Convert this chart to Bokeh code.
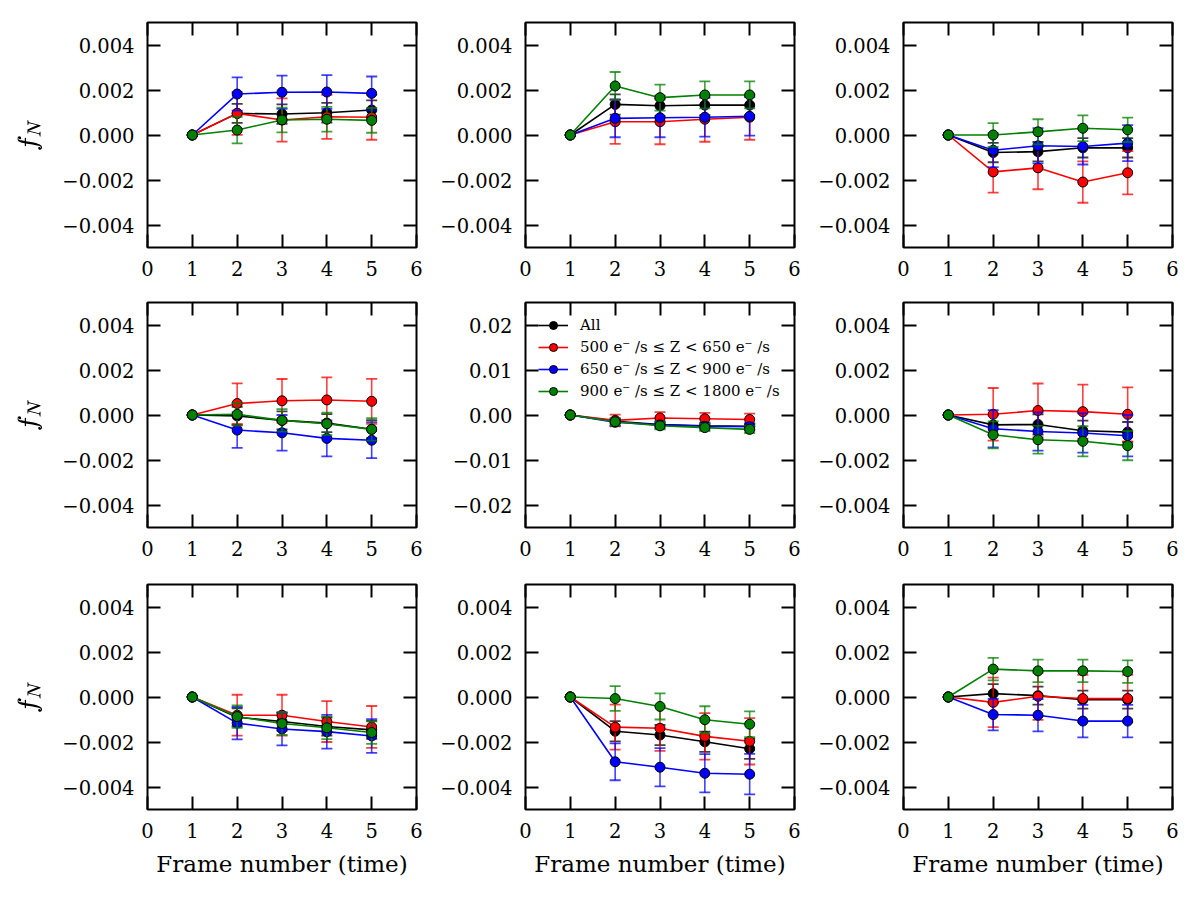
from bokeh.embed import file_html
from bokeh.layouts import column, row
from bokeh.models import (ColumnDataSource, CustomJSTickFormatter, FixedTicker,
                          Legend, LegendItem, LinearAxis, Range1d, TeX)
from bokeh.plotting import figure
from bokeh.resources import INLINE

FRAMES = [1, 2, 3, 4, 5]
X_TICKS = [0, 1, 2, 3, 4, 5, 6]
Y_TICKS = [-0.004, -0.002, 0.0, 0.002, 0.004]
Y_TICKS_WIDE = [-0.02, -0.01, 0.0, 0.01, 0.02]

SERIES_LABELS = [
    "All",
    "500 e\u207b /s \u2264 Z < 650 e\u207b /s",
    "650 e\u207b /s \u2264 Z < 900 e\u207b /s",
    "900 e\u207b /s \u2264 Z < 1800 e\u207b /s",
]
SERIES_COLORS = ["#000000", "#ff0000", "#0000ff", "#008000"]

# one list per panel (row-major, 3 x 3), values at frames 1..5
ALL_Y = [
    [0, 0.00096, 0.00093, 0.00099, 0.00111],
    [0, 0.00136, 0.00130, 0.00133, 0.00133],
    [0, -0.00078, -0.00074, -0.00057, -0.00057],
    [0, -0.00004, -0.00024, -0.00036, -0.00063],
    [0, -0.0014, -0.0021, -0.0024, -0.0025],
    [0, -0.00044, -0.00042, -0.00070, -0.00076],
    [0, -0.00090, -0.00109, -0.00131, -0.00146],
    [0, -0.00152, -0.00169, -0.00199, -0.00230],
    [0, 0.00015, 0.00006, -0.00012, -0.00012],
]
ALL_ERR = [
    [0, 0.00042, 0.00043, 0.00044, 0.00043],
    [0, 0.00045, 0.00045, 0.00045, 0.00045],
    [0, 0.00043, 0.00043, 0.00043, 0.00043],
    [0, 0.00040, 0.00040, 0.00040, 0.00040],
    [0, 0.0005, 0.0005, 0.0005, 0.0005],
    [0, 0.00045, 0.00045, 0.00045, 0.00045],
    [0, 0.00040, 0.00040, 0.00040, 0.00040],
    [0, 0.00045, 0.00045, 0.00045, 0.00045],
    [0, 0.00042, 0.00040, 0.00040, 0.00040],
]
LOW_Y = [
    [0, 0.00096, 0.00067, 0.00081, 0.00079],
    [0, 0.00059, 0.00059, 0.00070, 0.00079],
    [0, -0.00164, -0.00146, -0.00209, -0.00168],
    [0, 0.00051, 0.00063, 0.00067, 0.00061],
    [0, -0.0012, -0.00067, -0.00082, -0.0010],
    [0, 0.00003, 0.00020, 0.00015, 0.00003],
    [0, -0.00081, -0.00081, -0.00109, -0.00133],
    [0, -0.00134, -0.00139, -0.00175, -0.00197],
    [0, -0.00024, 0.00003, -0.00007, -0.00007],
]
LOW_ERR = [
    [0, 0.00095, 0.00096, 0.00098, 0.00100],
    [0, 0.00098, 0.00100, 0.00100, 0.00100],
    [0, 0.00092, 0.00095, 0.00092, 0.00096],
    [0, 0.00090, 0.00097, 0.00100, 0.00100],
    [0, 0.0013, 0.0013, 0.0013, 0.0013],
    [0, 0.00117, 0.00120, 0.00120, 0.00120],
    [0, 0.00091, 0.00091, 0.00091, 0.00093],
    [0, 0.00100, 0.00100, 0.00103, 0.00103],
    [0, 0.00110, 0.00105, 0.00105, 0.00105],
]
MID_Y = [
    [0, 0.00182, 0.00190, 0.00191, 0.00185],
    [0, 0.00074, 0.00077, 0.00079, 0.00083],
    [0, -0.00068, -0.00048, -0.00051, -0.00036],
    [0, -0.00067, -0.00079, -0.00104, -0.00112],
    [0, -0.0016, -0.0022, -0.0025, -0.0026],
    [0, -0.00061, -0.00073, -0.00080, -0.00092],
    [0, -0.00116, -0.00142, -0.00154, -0.00173],
    [0, -0.00288, -0.00312, -0.00339, -0.00343],
    [0, -0.00078, -0.00081, -0.00107, -0.00107],
]
MID_ERR = [
    [0, 0.00074, 0.00074, 0.00075, 0.00075],
    [0, 0.00084, 0.00087, 0.00086, 0.00086],
    [0, 0.00075, 0.00078, 0.00080, 0.00080],
    [0, 0.00079, 0.00079, 0.00080, 0.00080],
    [0, 0.0008, 0.0008, 0.0008, 0.0008],
    [0, 0.00083, 0.00085, 0.00087, 0.00092],
    [0, 0.00072, 0.00073, 0.00075, 0.00075],
    [0, 0.00082, 0.00085, 0.00085, 0.00090],
    [0, 0.00070, 0.00072, 0.00072, 0.00072],
]
HIGH_Y = [
    [0, 0.00022, 0.00067, 0.00070, 0.00065],
    [0, 0.00218, 0.00166, 0.00178, 0.00178],
    [0, 0.00000, 0.00014, 0.00030, 0.00023],
    [0, 0.00003, -0.00024, -0.00039, -0.00064],
    [0, -0.0015, -0.0024, -0.0028, -0.0032],
    [0, -0.00088, -0.00110, -0.00117, -0.00136],
    [0, -0.00087, -0.00118, -0.00137, -0.00158],
    [0, -0.00007, -0.00042, -0.00101, -0.00121],
    [0, 0.00124, 0.00116, 0.00116, 0.00113],
]
HIGH_ERR = [
    [0, 0.00059, 0.00055, 0.00055, 0.00055],
    [0, 0.00062, 0.00058, 0.00060, 0.00060],
    [0, 0.00053, 0.00056, 0.00057, 0.00054],
    [0, 0.00050, 0.00050, 0.00050, 0.00050],
    [0, 0.0008, 0.0008, 0.0008, 0.0008],
    [0, 0.00060, 0.00062, 0.00067, 0.00065],
    [0, 0.00050, 0.00050, 0.00050, 0.00050],
    [0, 0.00055, 0.00058, 0.00060, 0.00057],
    [0, 0.00050, 0.00050, 0.00050, 0.00050],
]

SERIES_Y = [ALL_Y, LOW_Y, MID_Y, HIGH_Y]
SERIES_ERR = [ALL_ERR, LOW_ERR, MID_ERR, HIGH_ERR]

FONT = "DejaVu Serif"
WIDE_PANEL = 4

# layout geometry of the 3 x 3 grid
COL_W = [425, 378, 397]
COL_L = [147, 100, 100]
COL_R = [9, 9, 28]
ROW_H = [283, 280, 337]
ROW_T = [22, 19, 21]
ROW_B = [36, 36, 91]


def tick_formatter(digits):
    return CustomJSTickFormatter(
        args=dict(digits=digits),
        code="""
        const s = Math.abs(tick).toFixed(digits);
        return (tick < -1e-12 ? '\u2212' : '') + s;
        """,
    )


def style_axis(ax, ticks, fmt=None, labels=True):
    ax.ticker = FixedTicker(ticks=ticks)
    ax.minor_tick_line_color = None
    ax.major_tick_in = 13
    ax.major_tick_out = 0
    ax.major_tick_line_width = 2
    ax.major_tick_line_color = "black"
    ax.axis_line_color = None
    if labels:
        ax.major_label_text_font = FONT
        ax.major_label_text_font_size = "19.5px"
        ax.major_label_text_color = "black"
        ax.major_label_standoff = 13
        if fmt is not None:
            ax.formatter = fmt
    else:
        # mirrored tick marks only
        ax.major_label_text_color = None
        ax.major_label_text_font_size = "1px"
        ax.major_label_standoff = 0


def make_panel(idx):
    r, c = divmod(idx, 3)
    wide = idx == WIDE_PANEL
    yticks = Y_TICKS_WIDE if wide else Y_TICKS
    ylim = 0.025 if wide else 0.005
    p = figure(
        width=COL_W[c], height=ROW_H[r],
        min_border_left=COL_L[c], min_border_right=COL_R[c],
        min_border_top=ROW_T[r], min_border_bottom=ROW_B[r],
        x_range=Range1d(0, 6), y_range=Range1d(-ylim, ylim),
        output_backend="svg", toolbar_location=None, tools="",
    )
    p.grid.visible = False
    p.outline_line_color = "black"
    p.outline_line_width = 2
    p.background_fill_color = "white"
    p.border_fill_color = "white"

    bottom = p.below[0]
    left = p.left[0]
    style_axis(bottom, X_TICKS, tick_formatter(0))
    style_axis(left, yticks, tick_formatter(2 if wide else 3))
    top = LinearAxis()
    right = LinearAxis()
    style_axis(top, X_TICKS, labels=False)
    style_axis(right, yticks, labels=False)
    p.add_layout(top, "above")
    p.add_layout(right, "right")

    if r == 2:
        bottom.axis_label = "Frame number (time)"
        bottom.axis_label_text_font = FONT
        bottom.axis_label_text_font_size = "23px"
        bottom.axis_label_text_font_style = "normal"
        bottom.axis_label_text_color = "black"
        bottom.axis_label_standoff = 10

    if c == 0:
        left.axis_label = TeX(text="f_N")
        left.axis_label_text_font_size = "22px"
        left.axis_label_text_color = "black"
        left.axis_label_standoff = 17

    items = []
    for s, color in enumerate(SERIES_COLORS):
        ys = SERIES_Y[s][idx]
        es = SERIES_ERR[s][idx]
        src = ColumnDataSource(dict(
            x=FRAMES, y=ys,
            lo=[y - e for y, e in zip(ys, es)],
            hi=[y + e for y, e in zip(ys, es)],
        ))
        ln = p.line("x", "y", source=src, line_color=color, line_width=1.6)
        p.segment(x0="x", y0="lo", x1="x", y1="hi", source=src,
                  line_color=color, line_width=1.6, line_alpha=0.75)
        p.scatter("x", "lo", source=src, marker="dash", size=11,
                  line_color=color, line_width=1.8, line_alpha=0.75)
        p.scatter("x", "hi", source=src, marker="dash", size=11,
                  line_color=color, line_width=1.8, line_alpha=0.75)
        mk = p.scatter("x", "y", source=src, marker="circle", size=10,
                       fill_color=color, line_color="black", line_width=1)
        items.append(LegendItem(label=SERIES_LABELS[s], renderers=[ln, mk]))

    if wide:
        legend = Legend(items=items, location="top_left",
                        border_line_color=None, background_fill_alpha=0,
                        label_text_font=FONT, label_text_font_size="15px",
                        label_text_color="black",
                        glyph_width=30, glyph_height=20, label_height=20,
                        spacing=2, padding=6, margin=13, label_standoff=12)
        p.add_layout(legend)
    return p


panels = [make_panel(i) for i in range(9)]
layout = column(
    row(panels[0], panels[1], panels[2]),
    row(panels[3], panels[4], panels[5]),
    row(panels[6], panels[7], panels[8]),
)

open("out.html", "w").write(file_html(layout, INLINE))
